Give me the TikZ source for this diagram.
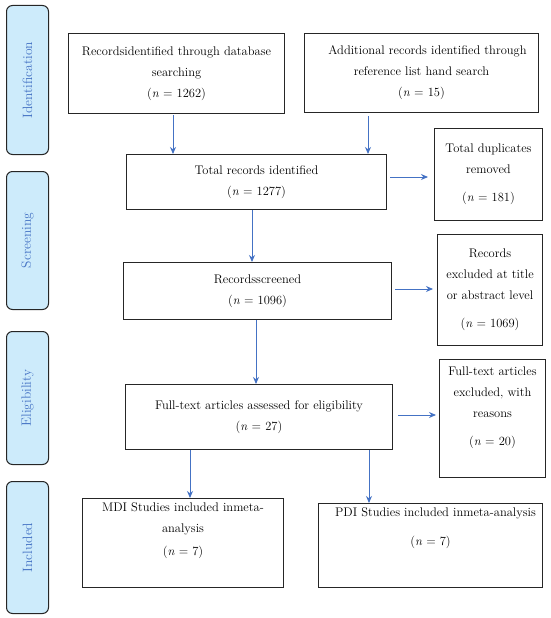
\documentclass[tikz,border=0pt]{standalone}
\usetikzlibrary{arrows.meta}
\definecolor{arrblue}{HTML}{4472C4}
\definecolor{phasefill}{HTML}{CDEBFB}
\tikzset{
  box/.style={draw=black!85, line width=1pt, anchor=north west, inner sep=0pt, align=center,
    font=\fontsize{12.5}{21}\selectfont},
  phase/.style={draw=black!85, line width=1pt, fill=phasefill, rounded corners=6pt, anchor=north west,
    inner sep=0pt},
  phasetext/.style={rotate=90, text=arrblue, font=\fontsize{13.5}{15}\selectfont},
  arr/.style={draw=arrblue, line width=1pt, -{Stealth[length=7pt,width=6pt]}}
}
\begin{document}
\begin{tikzpicture}[x=1pt,y=-1pt]
\useasboundingbox (0,0) rectangle (550,618);
% phases
\node[phase, minimum width=42pt, minimum height=149pt] (pid) at (6,5) {};
\node[phasetext] (tid) at (pid.center) {Identification};
\node[phase, minimum width=42pt, minimum height=138pt] (pscr) at (6,171) {};
\node[phasetext] (tscr) at (pscr.center) {Screening};
\node[phase, minimum width=42pt, minimum height=133pt] (pel) at (6,331) {};
\node[phasetext] (tel) at (pel.center) {Eligibility};
\node[phase, minimum width=42pt, minimum height=132pt] (pinc) at (6,481) {};
\node[phasetext] (tinc) at (pinc.center) {Included};
% boxes
\node[box, minimum width=216pt, minimum height=80pt] (b1) at (68,33)
  {Recordsidentified through database\\searching\\(\textit{n} = 1262)};
\node[box, minimum width=234pt, minimum height=79pt] (b2) at (304,33)
  {\hspace*{12pt}Additional records identified through\\reference list hand search\\(\textit{n} = 15)};
\node[box, minimum width=260pt, minimum height=55pt] (b3) at (126,154)
  {Total records identified\\(\textit{n} = 1277)};
\node[box, minimum width=108pt, minimum height=92pt] (b4) at (434,128)
  {Total duplicates\\removed\\[7pt](\textit{n} = 181)};
\node[box, minimum width=268pt, minimum height=57pt] (b5) at (123,262)
  {Recordsscreened\\(\textit{n} = 1096)};
\node[box, minimum width=105pt, minimum height=111pt] (b6) at (437,234)
  {Records\\excluded at title\\or abstract level\\[7pt](\textit{n} = 1069)};
\node[box, minimum width=267pt, minimum height=65pt] (b7) at (125,384)
  {Full-text articles assessed for eligibility\\(\textit{n} = 27)};
\node[box, minimum width=106pt, minimum height=118pt] (b8) at (439,359)
  {Full-text articles\\excluded, with\\reasons\\[7pt](\textit{n} = 20)\\[4pt]};
\node[box, minimum width=201pt, minimum height=89pt] (mdi) at (82,498)
  {MDI Studies included inmeta-\\analysis\\[2pt](\textit{n} = 7)\\[6pt]};
\node[box, minimum width=224pt, minimum height=84pt] (pdi) at (318,503)
  {\hspace*{10pt}PDI Studies included inmeta-analysis\\[8pt](\textit{n} = 7)\\[16pt]};
% column coordinates
\coordinate (c1) at (173,0);
\coordinate (c2) at (368,0);
\coordinate (c3) at (252,0);
\coordinate (c4) at (256,0);
\coordinate (c5) at (190,0);
\coordinate (c6) at (369,0);
\coordinate (r1) at (0,177);
\coordinate (r2) at (0,289);
\coordinate (r3) at (0,415);
% arrows
\draw[arr, shorten <=1pt] (b1.south -| c1) -- (b3.north -| c1);
\draw[arr, shorten <=3pt] (b2.south -| c2) -- (b3.north -| c2);
\draw[arr] (b3.south -| c3) -- (b5.north -| c3);
\draw[arr] (b5.south -| c4) -- (b7.north -| c4);
\draw[arr] (b7.south -| c5) -- (mdi.north -| c5);
\draw[arr] (b7.south -| c6) -- (pdi.north -| c6);
\draw[arr, shorten <=3pt, shorten >=6pt] (b3.east |- r1) -- (b4.west |- r1);
\draw[arr, shorten <=3pt, shorten >=4pt] (b5.east |- r2) -- (b6.west |- r2);
\draw[arr, shorten <=5pt, shorten >=3pt] (b7.east |- r3) -- (b8.west |- r3);
\end{tikzpicture}
\end{document}
